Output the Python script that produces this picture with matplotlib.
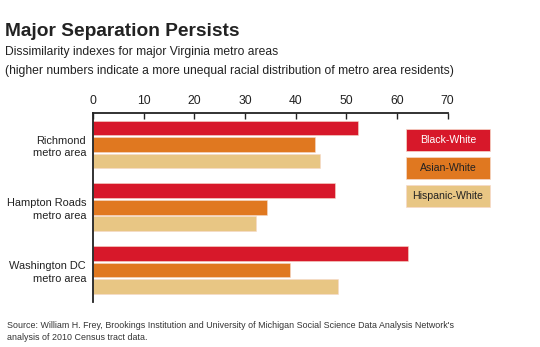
import matplotlib.pyplot as plt
from matplotlib.patches import Rectangle

plt.rcParams['font.family'] = ['Liberation Sans', 'DejaVu Sans']

metros = ['Richmond\nmetro area', 'Hampton Roads\nmetro area', 'Washington DC\nmetro area']
series = ['Black-White', 'Asian-White', 'Hispanic-White']
black_white = [52.3, 47.7, 62.2]
asian_white = [43.9, 34.3, 38.9]
hispanic_white = [44.8, 32.2, 48.3]
colors = ['#D7182A', '#E07820', '#E8C684']
text_colors = ['white', '#222222', '#222222']

fig = plt.figure(figsize=(5.4, 3.47), dpi=100)
ax = fig.add_axes([93 / 540, 1 - 301.7 / 347, (447.7 - 93) / 540, (301.7 - 113) / 347])

group_step = 3.8
values = [black_white, asian_white, hispanic_white]
for j, vals in enumerate(values):
    ys = [i * group_step + j for i in range(len(metros))]
    ax.barh(ys, vals, height=0.9, color=colors[j], edgecolor='#f6d9c9', linewidth=0.4)

ax.set_xlim(0, 70)
ax.set_ylim(2 * group_step + 2 + 0.92, -0.91)
ax.set_xticks(range(0, 71, 10))
ax.xaxis.tick_top()
ax.tick_params(axis='x', direction='in', length=4, width=1, labelsize=8.7, pad=4, colors='#222222')
ax.set_yticks([i * group_step + 1 for i in range(len(metros))])
ax.set_yticklabels(metros, ha='right', fontsize=7.9, color='#222222', linespacing=1.35)
ax.tick_params(axis='y', length=0, pad=5)
for s in ['right', 'bottom']:
    ax.spines[s].set_visible(False)
for s in ['top', 'left']:
    ax.spines[s].set_linewidth(1.3)
    ax.spines[s].set_color('#222222')

# legend boxes
box_tops = [129.3, 156.7, 185.3]
for name, c, tc, top in zip(series, colors, text_colors, box_tops):
    x0, w, h = 406 / 540, 84 / 540, 22 / 347
    y0 = 1 - top / 347 - h
    fig.patches.append(Rectangle((x0, y0), w, h, transform=fig.transFigure,
                                 facecolor=c, edgecolor='#f6d9c9', linewidth=0.5))
    fig.text(x0 + w / 2, y0 + h / 2, name, ha='center', va='center',
             fontsize=7.6, color=tc)

fig.text(5 / 540, 1 - 31 / 347, 'Major Separation Persists', fontsize=13.8,
         fontweight='bold', color='#222222', va='center')
fig.text(5 / 540, 1 - 52 / 347, 'Dissimilarity indexes for major Virginia metro areas',
         fontsize=8.7, color='#222222', va='center')
fig.text(5 / 540, 1 - 71 / 347,
         '(higher numbers indicate a more unequal racial distribution of metro area residents)',
         fontsize=8.7, color='#222222', va='center')
fig.text(7 / 540, 1 - 325 / 347,
         "Source: William H. Frey, Brookings Institution and University of Michigan Social Science Data Analysis Network's",
         fontsize=6.4, color='#333333', va='center')
fig.text(7 / 540, 1 - 338 / 347, 'analysis of 2010 Census tract data.',
         fontsize=6.4, color='#333333', va='center')

fig.savefig('out.png', dpi=100)
